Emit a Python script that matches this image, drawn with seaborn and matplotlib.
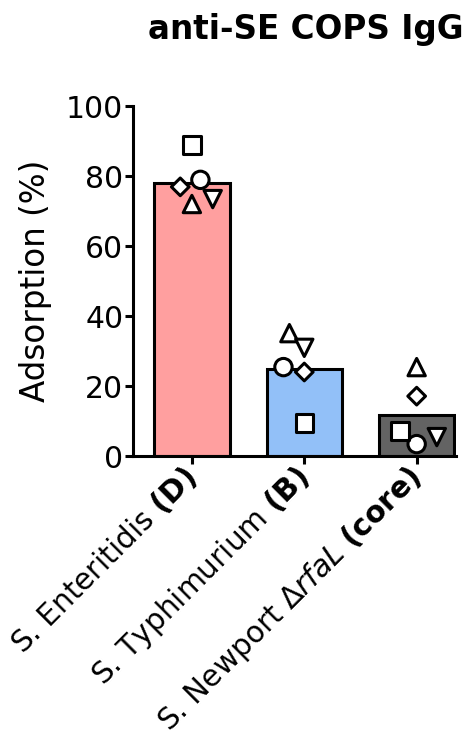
import numpy as np
import pandas as pd
import matplotlib
matplotlib.use("Agg")
import matplotlib.pyplot as plt
import seaborn as sns
from matplotlib.markers import MarkerStyle
from matplotlib.transforms import Affine2D

# ---------------- data ----------------
categories = ["S. Enteritidis (D)", "S. Typhimurium (B)", "S. Newport ΔrfaL (core)"]
tick_labels = [r"S. Enteritidis $\mathbf{(D)}$",
               r"S. Typhimurium $\mathbf{(B)}$",
               r"S. Newport $\mathit{Δ rfaL}$ $\mathbf{(core)}$"]
donors = ["circle", "square", "triangle_up", "triangle_down", "diamond"]
enteritidis = [78.9, 88.9, 72.0, 73.4, 76.9]
typhimurium = [25.4, 9.4, 35.1, 30.9, 24.0]
newport = [3.4, 7.1, 25.4, 5.4, 17.1]
bar_colors = ["#FF9F9F", "#92C0F8", "#636363"]
title = "anti-SE COPS IgG"
ylabel = "Adsorption (%)"
yticks = [0, 20, 40, 60, 80, 100]

marker_map = {"circle": "o", "square": "s", "triangle_up": "^",
              "triangle_down": "v", "diamond": "D"}
# swarm drawn mirrored (spread to the other side) for these categories
mirror_swarm = [True, False, True]

df = pd.DataFrame({
    "strain": np.repeat(categories, len(donors)),
    "donor": donors * len(categories),
    "value": enteritidis + typhimurium + newport,
})

# ---------------- style ----------------
sns.set_theme(style="ticks")
plt.rcParams["font.family"] = ["DejaVu Sans"]
plt.rcParams["mathtext.fontset"] = "dejavusans"

fig = plt.figure(figsize=(4.71, 7.52), dpi=100)
ax = fig.add_axes([133 / 471, 1 - 456 / 752, (456 - 133) / 471, (456 - 106) / 752])

sns.barplot(data=df, x="strain", y="value", hue="strain", palette=bar_colors,
            order=categories, hue_order=categories, errorbar=None, width=0.67,
            edgecolor="black", linewidth=2.2, saturation=1, legend=False,
            ax=ax, zorder=2)

n_before = len(ax.collections)
sns.swarmplot(data=df, x="strain", y="value", order=categories, color="white",
              edgecolor="black", linewidth=2.2, size=12.5, ax=ax, zorder=3)

# per-point marker shapes
def marker_path(name):
    ms = MarkerStyle(marker_map[name])
    p = ms.get_path().transformed(ms.get_transform())
    if name == "diamond":
        p = p.transformed(Affine2D().scale(0.72))
    return p

swarm_colls = ax.collections[n_before:]
for coll, cat in zip(swarm_colls, categories):
    sub = df[df["strain"] == cat]
    coll.set_paths([marker_path(d) for d in sub["donor"]])
    coll.set_facecolor("white")
    coll.set_edgecolor("black")
    coll.set_linewidth(2.2)

ax.set_ylim(0, 100)
ax.set_xlim(-0.524, 2.35)
ax.set_yticks(yticks)
ax.set_yticklabels([str(t) for t in yticks], fontsize=21.5, color="black")
ax.set_xticks(range(len(categories)))
ax.set_xticklabels(tick_labels, fontsize=21.3, rotation=45, ha="right",
                   va="center", rotation_mode="anchor", color="black")
ax.set_xlabel("")
ax.set_ylabel(ylabel, fontsize=23.5, labelpad=10, color="black")
for s in ["top", "right"]:
    ax.spines[s].set_visible(False)
for s in ["left", "bottom"]:
    ax.spines[s].set_linewidth(2.2)
    ax.spines[s].set_color("black")
ax.tick_params(axis="both", width=2.2, length=6, color="black", pad=1)
ax.tick_params(axis="x", pad=6)

fig.text(306 / 471, 1 - 39 / 752, title, ha="center", va="baseline",
         fontsize=23.5, fontweight="bold", color="black")

# let seaborn compute the swarm, then optionally mirror it about the category
fig.canvas.draw()
for i, (coll, flip) in enumerate(zip(swarm_colls, mirror_swarm)):
    off = np.asarray(coll.get_offsets()).copy()
    if flip:
        off[:, 0] = 2 * i - off[:, 0]
    coll.set_offsets(off)
    if "draw" in coll.__dict__:
        del coll.draw

fig.savefig("out.png", dpi=100)
